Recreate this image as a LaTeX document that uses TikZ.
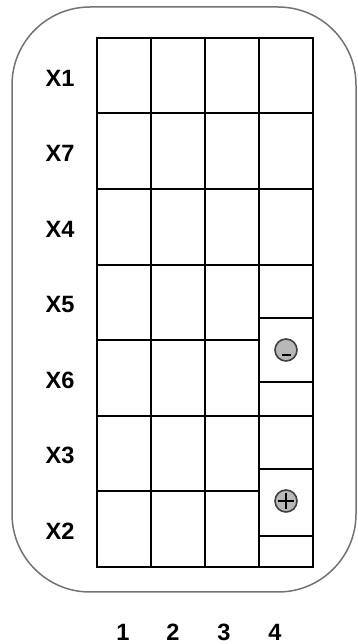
\documentclass[tikz,border=0pt]{standalone}
\usepackage{fontspec}
\setmainfont{Liberation Sans}
\usetikzlibrary{positioning}
\newcommand{\unitsize}{0.5pt}

\begin{document}
\begin{tikzpicture}
\useasboundingbox (0,0) rectangle (358*\unitsize,644*\unitsize);
\tikzstyle{every node}=[inner sep=0pt,
			font=\bfseries\fontsize{11.8}{14}\selectfont
			]
\tikzstyle{cell}=[draw=black, line width=0.65pt]
\tikzstyle{pole}=[draw=black!75, fill=black!28, circle, line width=0.8pt,
			minimum size=22*\unitsize]
\tikzstyle{sign}=[draw=black, line width=1.1pt]

% outer housing
\draw[black!55, line width=0.75pt, rounded corners=78*\unitsize] (12*\unitsize,52*\unitsize) rectangle (356*\unitsize,637*\unitsize);

% terminal block
\draw[cell] (97*\unitsize,77*\unitsize) rectangle (313*\unitsize,606*\unitsize);

\draw[cell] (151*\unitsize,77*\unitsize) -- (151*\unitsize,606*\unitsize);
\draw[cell] (205*\unitsize,77*\unitsize) -- (205*\unitsize,606*\unitsize);
\draw[cell] (259*\unitsize,77*\unitsize) -- (259*\unitsize,606*\unitsize);

\draw[cell] (97*\unitsize,531*\unitsize) -- (313*\unitsize,531*\unitsize);
\draw[cell] (97*\unitsize,455*\unitsize) -- (313*\unitsize,455*\unitsize);
\draw[cell] (97*\unitsize,379*\unitsize) -- (313*\unitsize,379*\unitsize);
\draw[cell] (97*\unitsize,304*\unitsize) -- (259*\unitsize,304*\unitsize);
\draw[cell] (97*\unitsize,228*\unitsize) -- (313*\unitsize,228*\unitsize);
\draw[cell] (97*\unitsize,153*\unitsize) -- (259*\unitsize,153*\unitsize);

% column 4 split for the poles
\draw[cell] (259*\unitsize,326*\unitsize) -- (313*\unitsize,326*\unitsize);
\draw[cell] (259*\unitsize,262*\unitsize) -- (313*\unitsize,262*\unitsize);
\draw[cell] (259*\unitsize,175*\unitsize) -- (313*\unitsize,175*\unitsize);
\draw[cell] (259*\unitsize,108*\unitsize) -- (313*\unitsize,108*\unitsize);

% row labels
\node (x1) at (60*\unitsize,566*\unitsize) {X1};
\node (x7) at (60*\unitsize,491*\unitsize) {X7};
\node (x4) at (60*\unitsize,415*\unitsize) {X4};
\node (x5) at (60*\unitsize,340*\unitsize) {X5};
\node (x6) at (60*\unitsize,264*\unitsize) {X6};
\node (x3) at (60*\unitsize,189*\unitsize) {X3};
\node (x2) at (60*\unitsize,113*\unitsize) {X2};

% column numbers
\node (c1) at (123*\unitsize,12*\unitsize) {1};
\node (c2) at (173*\unitsize,12*\unitsize) {2};
\node (c3) at (224*\unitsize,12*\unitsize) {3};
\node (c4) at (275*\unitsize,12*\unitsize) {4};

% poles
\node[pole] (minus) at (286*\unitsize,294*\unitsize) {};
\node[pole] (plus) at (286*\unitsize,143*\unitsize) {};

\draw[sign] ([xshift=-4*\unitsize, yshift=-5*\unitsize]minus.center) -- ([xshift=5*\unitsize, yshift=-5*\unitsize]minus.center);
\draw[sign, line width=0.6pt] ([xshift=-8*\unitsize]plus.center) -- ([xshift=8*\unitsize]plus.center);
\draw[sign, line width=0.6pt] ([yshift=-8*\unitsize]plus.center) -- ([yshift=8*\unitsize]plus.center);

\end{tikzpicture}
\end{document}
